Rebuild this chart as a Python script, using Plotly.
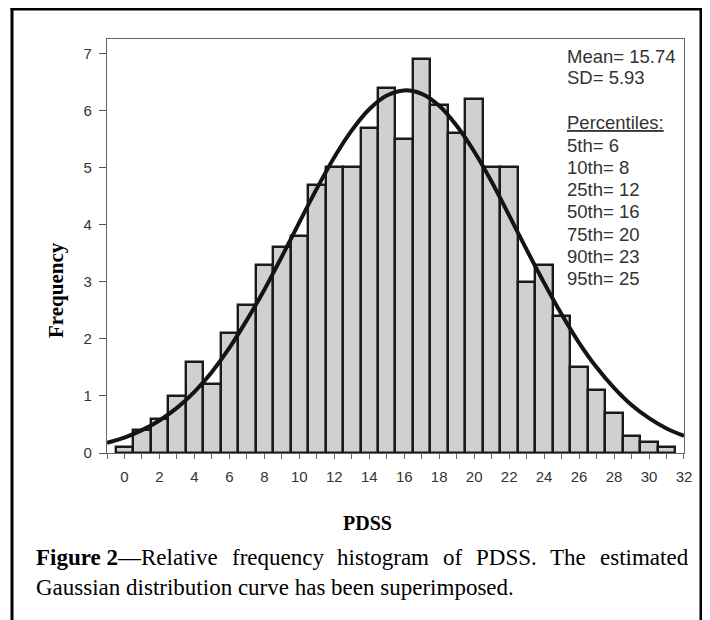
import plotly.graph_objects as go

# ---- data ----
pdss_scores = list(range(0, 32))
rel_freq = [0.1, 0.4, 0.6, 1.0, 1.6, 1.2, 2.1, 2.6, 3.3, 3.6, 3.8, 4.7, 5.0, 5.0, 5.7, 6.4,
            5.5, 6.9, 6.1, 5.6, 6.2, 5.0, 5.0, 3.0, 3.3, 2.4, 1.5, 1.1, 0.7, 0.3, 0.2, 0.1]
curve_x = list(range(-1, 33))
curve_y = [0.18, 0.27, 0.40, 0.57, 0.79, 1.07, 1.42, 1.84, 2.33, 2.86, 3.44, 4.04, 4.63, 5.18,
           5.65, 6.02, 6.26, 6.35, 6.29, 6.08, 5.73, 5.28, 4.75, 4.16, 3.56, 2.98, 2.43, 1.93,
           1.50, 1.14, 0.84, 0.61, 0.43, 0.30]
x_ticks = list(range(0, 33, 2))
y_ticks = list(range(0, 8))
stats_lines = ["Mean= 15.74", "SD= 5.93", "<u>Percentiles:</u>", "5th= 6", "10th= 8",
               "25th= 12", "50th= 16", "75th= 20", "90th= 23", "95th= 25"]

# ---- geometry (page has an 8px body margin) ----
OFF = 8
W, H = 698, 612
L, T = 107 - OFF, 39 - OFF
PW, PH = 577, 414
R = W - L - PW
B = H - T - PH


def px(x):
    return (x - OFF - L) / PW


def py(y):
    return (T + PH - (y - OFF)) / PH


fig = go.Figure()
fig.add_trace(go.Bar(x=pdss_scores, y=rel_freq, width=1,
                     marker=dict(color="#d0d0d0", line=dict(color="#1a1a1a", width=2.4)),
                     hoverinfo="x+y"))
fig.add_trace(go.Scatter(x=curve_x, y=curve_y, mode="lines",
                         line=dict(color="#141414", width=4, shape="spline"),
                         hoverinfo="skip"))

ann = []
stat_ys = [56.5, 78, 122.5, 145, 167, 189.5, 211.5, 234, 256, 278]
for t, yy in zip(stats_lines, stat_ys):
    ann.append(dict(text=t, xref="paper", yref="paper", x=px(565), y=py(yy),
                    xanchor="left", yanchor="middle", showarrow=False,
                    font=dict(family="Liberation Sans, Arial", size=18.5, color="#333333")))

ann.append(dict(text="<b>Frequency</b>", xref="paper", yref="paper", x=px(55.5), y=py(290.5),
                textangle=-90, xanchor="center", yanchor="middle", showarrow=False,
                font=dict(family="Liberation Serif, Times New Roman", size=21, color="#000")))
ann.append(dict(text="<b>PDSS</b>", xref="paper", yref="paper", x=px(367), y=py(523),
                xanchor="center", yanchor="middle", showarrow=False,
                font=dict(family="Liberation Serif, Times New Roman", size=20, color="#000")))

cap_font = 23
words = ["<b>Figure 2</b>—Relative", "frequency", "histogram", "of", "PDSS.", "The", "estimated"]
ems = [7.916, 3.998, 4.0, 0.833, 2.64, 1.555, 3.833]
left, right = 34, 686
gap = (right - left - sum(ems) * cap_font) / (len(words) - 1)
pos = left
for w, e in zip(words, ems):
    ann.append(dict(text=w, xref="paper", yref="paper", x=px(pos), y=py(557.5),
                    xanchor="left", yanchor="middle", showarrow=False,
                    font=dict(family="Liberation Serif, Times New Roman", size=cap_font, color="#000")))
    pos += e * cap_font + gap
ann.append(dict(text="Gaussian distribution curve has been superimposed.", xref="paper", yref="paper",
                x=px(34), y=py(587), xanchor="left", yanchor="middle", showarrow=False,
                font=dict(family="Liberation Serif, Times New Roman", size=cap_font, color="#000")))

frame = dict(color="#000", width=3)
shapes = [
    dict(type="line", xref="paper", yref="paper", x0=px(12), x1=px(12), y0=py(8), y1=py(640), line=frame),
    dict(type="line", xref="paper", yref="paper", x0=px(701), x1=px(701), y0=py(8), y1=py(640), line=frame),
    dict(type="line", xref="paper", yref="paper", x0=px(10.5), x1=px(702.5), y0=py(9), y1=py(9), line=frame),
]

fig.update_layout(
    width=W, height=H, margin=dict(l=L, r=R, t=T, b=B, autoexpand=False),
    paper_bgcolor="white", plot_bgcolor="white", showlegend=False,
    bargap=0, annotations=ann, shapes=shapes,
    xaxis=dict(range=[-1, 32.001], tickvals=x_ticks, ticks="outside", ticklen=5, tickwidth=1,
               tickcolor="#666", showgrid=False, zeroline=False, showline=True, linecolor="#666",
               linewidth=1.3, mirror=True, ticklabelstandoff=5,
               tickfont=dict(family="Liberation Sans, Arial", size=15, color="#333"),
               minor=dict(dtick=1, tick0=0, ticks="outside", ticklen=5, tickcolor="#666", showgrid=False)),
    yaxis=dict(range=[0, 7.25], tickvals=y_ticks, ticks="outside", ticklen=7, tickwidth=1,
               tickcolor="#555", showgrid=False, zeroline=False, showline=True, linecolor="#666",
               linewidth=1.3, mirror=True, ticklabelstandoff=4,
               tickfont=dict(family="Liberation Sans, Arial", size=15, color="#333")),
)

fig.write_html("out.html")
